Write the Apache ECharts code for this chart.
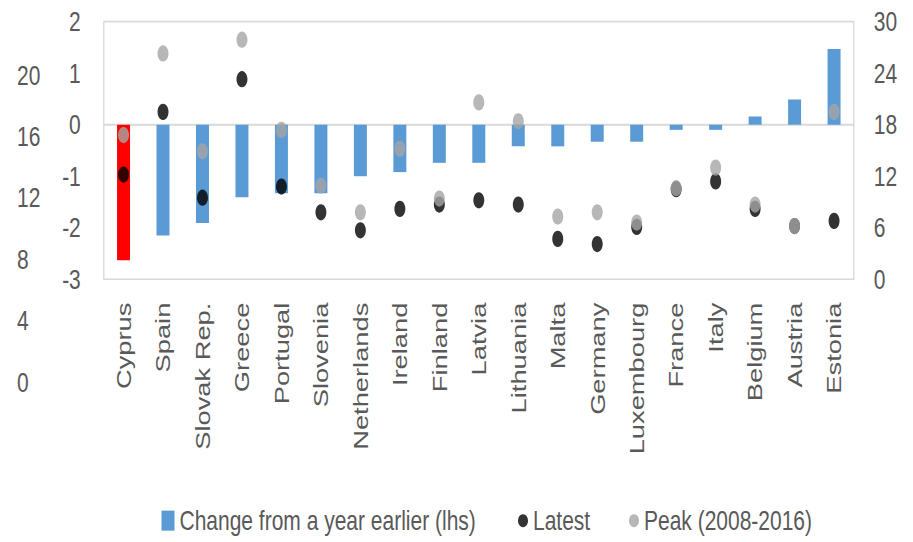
<!DOCTYPE html>
<html>
<head>
<meta charset="utf-8">
<script src="https://cdn.jsdelivr.net/npm/echarts@6/dist/echarts.min.js"></script>
<style>
  html, body { margin: 0; padding: 0; background: #fff; width: 913px; height: 542px; overflow: hidden; }
  #frame { width: 913px; height: 542px; position: relative; overflow: hidden; }
  #chart { position: absolute; left: 0; top: 0; width: 913px; height: 417px; transform: scaleY(1.3); transform-origin: 0 0; }
</style>
</head>
<body>
<div id="frame"><div id="chart"></div></div>
<script>
// Euro-area countries, sorted by the change over the year
const categories = ['Cyprus', 'Spain', 'Slovak Rep.', 'Greece', 'Portugal', 'Slovenia', 'Netherlands',
  'Ireland', 'Finland', 'Latvia', 'Lithuania', 'Malta', 'Germany', 'Luxembourg', 'France', 'Italy',
  'Belgium', 'Austria', 'Estonia'];

// Change from a year earlier, percentage points (left axis)
const changeValues = [-2.63, -2.15, -1.91, -1.41, -1.33, -1.33, -1.00, -0.92, -0.74, -0.74,
  -0.42, -0.42, -0.33, -0.33, -0.10, -0.10, 0.16, 0.49, 1.47];

// Latest level, per cent (right axis)
const latestValues = [12.2, 19.5, 9.5, 23.3, 10.8, 7.8, 5.7, 8.2, 8.7, 9.2,
  8.7, 4.7, 4.1, 6.1, 10.5, 11.4, 8.2, 6.2, 6.8];

// Peak level over 2008-2016, per cent (right axis)
const peakValues = [16.8, 26.3, 14.9, 27.9, 17.4, 10.9, 7.8, 15.2, 9.4, 20.6,
  18.4, 7.3, 7.8, 6.6, 10.6, 13.0, 8.7, 6.2, 19.5];

// Axis ranges
const lhsRange = { min: -3, max: 2, step: 1 };
const rhsRange = { min: 0, max: 30, step: 6 };
const outerRange = { min: 0, max: 20, step: 4 };

const seriesNames = ['Change from a year earlier (lhs)', 'Latest', 'Peak (2008-2016)'];
const highlighted = 'Cyprus';

const FONT = "'Liberation Sans', Arial, sans-serif";
const TEXT = '#595959';
const FRAME = '#D9D9D9';

const chart = echarts.init(document.getElementById('chart'), null, { renderer: 'svg' });

const barData = changeValues.map((v, i) => (
  categories[i] === highlighted ? { value: v, itemStyle: { color: '#FF0000' } } : v
));

const labelStyle = { color: TEXT, fontFamily: FONT, fontSize: 21 };
const legendText = { color: TEXT, fontFamily: FONT, fontSize: 21 };

chart.setOption({
  animation: false,
  backgroundColor: '#fff',
  grid: [
    { left: 103.8, right: 59.2, top: 16.7, height: 198.1, show: true, borderColor: FRAME, borderWidth: 1.3, backgroundColor: 'transparent' },
    { left: 60, width: 10, top: 57.7, height: 236.2 }
  ],
  legend: [
    {
      data: [seriesNames[0]], left: 161.5, top: 390, padding: 0, icon: 'rect', itemWidth: 13, itemHeight: 15.4,
      textStyle: legendText, selectedMode: false
    },
    {
      data: [seriesNames[1]], left: 518, top: 390, padding: 0, icon: 'circle', itemWidth: 10, itemHeight: 12.3,
      textStyle: legendText, selectedMode: false
    },
    {
      data: [seriesNames[2]], left: 629, top: 390, padding: 0, icon: 'circle', itemWidth: 10, itemHeight: 12.3,
      textStyle: legendText, selectedMode: false
    }
  ],
  xAxis: [
    {
      type: 'category', data: categories, gridIndex: 0, position: 'bottom',
      axisLine: { show: false, onZero: false }, axisTick: { show: false },
      axisLabel: Object.assign({ rotate: 90, margin: 18, interval: 0 }, labelStyle)
    },
    {
      type: 'category', data: categories, gridIndex: 0,
      axisLine: { show: true, onZero: true, onZeroAxisIndex: 0, lineStyle: { color: FRAME, width: 1.6 } },
      axisTick: { show: false }, axisLabel: { show: false }
    },
    { type: 'value', gridIndex: 1, show: false }
  ],
  yAxis: [
    {
      type: 'value', gridIndex: 0, position: 'left',
      min: lhsRange.min, max: lhsRange.max, interval: lhsRange.step,
      axisLine: { show: false }, axisTick: { show: false }, splitLine: { show: false },
      axisLabel: Object.assign({ margin: 23 }, labelStyle)
    },
    {
      type: 'value', gridIndex: 0, position: 'right',
      min: rhsRange.min, max: rhsRange.max, interval: rhsRange.step,
      axisLine: { show: false }, axisTick: { show: false }, splitLine: { show: false },
      axisLabel: Object.assign({ margin: 20 }, labelStyle)
    },
    {
      type: 'value', gridIndex: 1, position: 'left',
      min: outerRange.min, max: outerRange.max, interval: outerRange.step,
      axisLine: { show: false }, axisTick: { show: false }, splitLine: { show: false },
      axisLabel: Object.assign({ margin: 43, align: 'left' }, labelStyle)
    }
  ],
  series: [
    {
      name: seriesNames[0], type: 'bar', xAxisIndex: 0, yAxisIndex: 0,
      data: barData, barWidth: 13, itemStyle: { color: '#5B9BD5' }
    },
    {
      name: seriesNames[1], type: 'scatter', xAxisIndex: 0, yAxisIndex: 1,
      data: latestValues, symbol: 'circle', symbolSize: [11, 12.5],
      itemStyle: { color: '#000000' }
    },
    {
      name: seriesNames[2], type: 'scatter', xAxisIndex: 0, yAxisIndex: 1,
      data: peakValues, symbol: 'circle', symbolSize: [11, 12.5],
      itemStyle: { color: '#A5A5A5' }
    }
  ]
});
</script>
</body>
</html>
